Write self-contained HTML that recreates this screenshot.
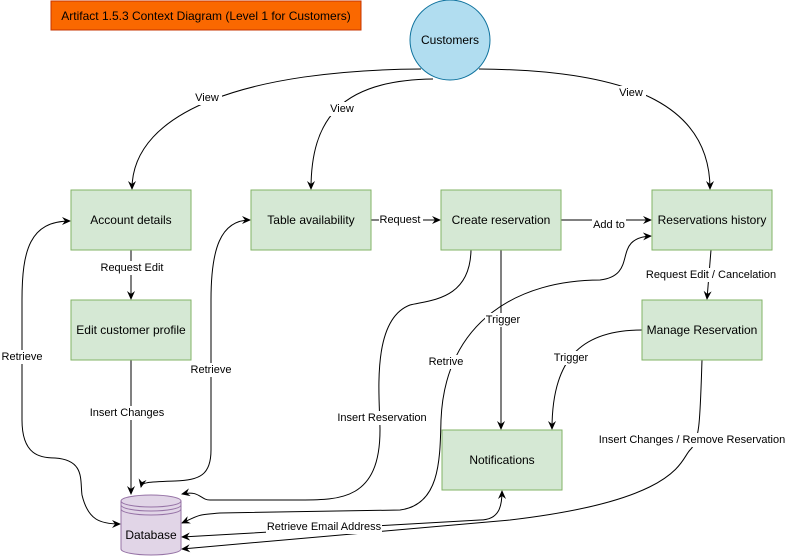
<!DOCTYPE html>
<html><head><meta charset="utf-8"><style>
html,body{margin:0;padding:0;background:#fff;}
svg{display:block;font-family:"Liberation Sans",Helvetica,sans-serif;}
.b{fill:#d5e8d4;stroke:#82b366;stroke-width:1;}
.t{font-size:12px;text-anchor:middle;dominant-baseline:central;fill:#000;}
.l{font-size:11px;text-anchor:middle;dominant-baseline:central;fill:#000;}
.lb{fill:#fff;}
.e{fill:none;stroke:#000;stroke-width:1;}
</style></head><body>
<svg width="785" height="556" viewBox="0 0 785 556" xmlns="http://www.w3.org/2000/svg">
<defs><marker id="a" markerWidth="10" markerHeight="10" refX="8" refY="5" orient="auto-start-reverse" markerUnits="userSpaceOnUse"><path d="M0,1 L9,5 L0,9 L3,5 Z" fill="#000"/></marker></defs>

<rect x="51" y="1" width="310" height="29" fill="#fa6800" stroke="#c73500"/>
<text x="206" y="16" class="t" style="font-size:12px">Artifact 1.5.3 Context Diagram (Level 1 for Customers)</text>

<circle cx="450" cy="40" r="40" fill="#b1ddf0" stroke="#10739e"/>
<text x="450" y="40" class="t">Customers</text>

<!-- edges -->
<path class="e" d="M421,69 C250,70 132,110 132,189" marker-end="url(#a)"/>
<path class="e" d="M433,79 C340,80 311,120 311,189" marker-end="url(#a)"/>
<path class="e" d="M479,69 C640,70 710,110 710,189" marker-end="url(#a)"/>
<path class="e" d="M131,250 L131,299" marker-end="url(#a)"/>
<path class="e" d="M131,360 L131,494" marker-end="url(#a)"/>
<path class="e" d="M371,220 L440,220" marker-end="url(#a)"/>
<path class="e" d="M561,220 L651,220" marker-end="url(#a)"/>
<path class="e" d="M711,250 L707,299" marker-end="url(#a)"/>
<path class="e" d="M501,250 L501,429" marker-end="url(#a)"/>
<path class="e" d="M642,330 C580,330 552,360 552,429" marker-end="url(#a)"/>
<!-- Retrieve left -->
<path class="e" d="M70,221 C30,221 22,250 22,300 L22,420 C22,455 40,458 55,458 C85,460 80,480 82,495 C88,520 100,524 120,524" marker-start="url(#a)" marker-end="url(#a)"/>
<!-- Retrieve table -->
<path class="e" d="M250,220 C220,220 211,250 211,300 L211,450 C211,475 200,480 175,481 C148,482 142,482 141,487" marker-start="url(#a)" marker-end="url(#a)"/>
<!-- Insert reservation -->
<path class="e" d="M471,250 C470,300 430,300 410,305 C370,320 380,400 380,430 C380,500 340,500 300,500 L210,500 C200,500 200,490 182,494" marker-end="url(#a)"/>
<!-- Retrive -->
<path class="e" d="M182,523 C200,515 195,515 220,513 L400,510 C440,505 440,460 441,420 C445,320 520,280 600,280 C640,275 610,238 651,236" marker-start="url(#a)" marker-end="url(#a)"/>
<!-- Retrieve Email -->
<path class="e" d="M182,537 L480,520 C500,520 502,505 502,491" marker-start="url(#a)" marker-end="url(#a)"/>
<!-- Manage -> DB -->
<path class="e" d="M702,360 C700,420 700,440 690,450 C680,460 680,500 510,520 L182,549" marker-end="url(#a)"/>

<!-- labels -->
<rect class="lb" x="192" y="91" width="30" height="14"/><text x="207" y="98" class="l">View</text>
<rect class="lb" x="327" y="102" width="30" height="14"/><text x="342" y="109" class="l">View</text>
<rect class="lb" x="616" y="86" width="30" height="14"/><text x="631" y="93" class="l">View</text>
<rect class="lb" x="100" y="261" width="64" height="14"/><text x="132" y="268" class="l">Request Edit</text>
<rect class="lb" x="89" y="406" width="76" height="14"/><text x="127" y="413" class="l">Insert Changes</text>
<rect class="lb" x="379" y="213" width="44" height="14"/><text x="400" y="220" class="l">Request</text>
<rect class="lb" x="592" y="218" width="34" height="14"/><text x="609" y="225" class="l">Add to</text>
<rect class="lb" x="645" y="268" width="134" height="14"/><text x="711" y="275" class="l">Request Edit / Cancelation</text>
<rect class="lb" x="485" y="313" width="36" height="14"/><text x="503" y="320" class="l">Trigger</text>
<rect class="lb" x="553" y="351" width="36" height="14"/><text x="571" y="358" class="l">Trigger</text>
<rect class="lb" x="1" y="350" width="42" height="14"/><text x="22" y="357" class="l">Retrieve</text>
<rect class="lb" x="190" y="363" width="42" height="14"/><text x="211" y="370" class="l">Retrieve</text>
<rect class="lb" x="336" y="411" width="92" height="14"/><text x="382" y="418" class="l">Insert Reservation</text>
<rect class="lb" x="428" y="355" width="36" height="14"/><text x="446" y="362" class="l">Retrive</text>
<rect class="lb" x="266" y="520" width="116" height="14"/><text x="324" y="527" class="l">Retrieve Email Address</text>
<rect class="lb" x="599" y="433" width="186" height="14"/><text x="692" y="440" class="l">Insert Changes / Remove Reservation</text>

<!-- boxes -->
<rect class="b" x="71" y="190" width="120" height="60"/><text x="131" y="220" class="t">Account details</text>
<rect class="b" x="251" y="190" width="120" height="60"/><text x="311" y="220" class="t">Table availability</text>
<rect class="b" x="441" y="190" width="120" height="60"/><text x="501" y="220" class="t">Create reservation</text>
<rect class="b" x="652" y="190" width="120" height="60"/><text x="712" y="220" class="t">Reservations history</text>
<rect class="b" x="71" y="300" width="120" height="60"/><text x="131" y="330" class="t">Edit customer profile</text>
<rect class="b" x="642" y="300" width="120" height="60"/><text x="702" y="330" class="t">Manage Reservation</text>
<rect class="b" x="442" y="430" width="120" height="60"/><text x="502" y="460" class="t">Notifications</text>

<!-- database -->
<path d="M121,501 L121,549 A30,6 0 0 0 181,549 L181,501 A30,6 0 0 0 121,501 Z" fill="#e1d5e7" stroke="#9673a6"/>
<path d="M121,501 A30,6 0 0 0 181,501 M121,505 A30,6 0 0 0 181,505 M121,509 A30,6 0 0 0 181,509" fill="none" stroke="#9673a6"/>
<text x="151" y="535" class="t">Database</text>
</svg>
</body></html>
